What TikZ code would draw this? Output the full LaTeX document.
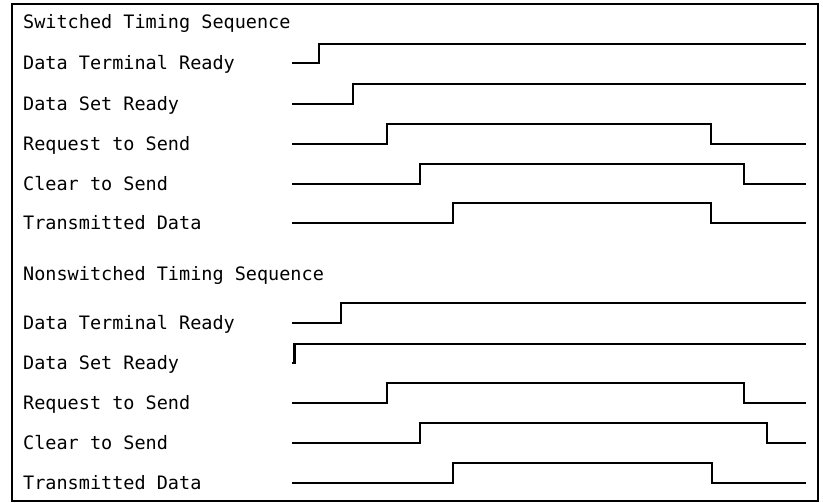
\documentclass[tikz,border=0pt]{standalone}
\usepackage{fontspec}
\setmonofont{DejaVu Sans Mono}
\begin{document}
\begin{tikzpicture}[x=1pt,y=-1pt,
  lbl/.style={anchor=base west,inner sep=0pt,font=\ttfamily\fontsize{18.5}{20}\selectfont},
  sig/.style={line width=2.1pt,line join=miter},
  frame/.style={line width=2pt}]
\useasboundingbox (0,0) rectangle (823,503);
\draw[frame] (12,4) rectangle (818,501);
% Switched
\node[lbl] (t1) at (23,29) {Switched Timing Sequence};
\node[lbl] (s1) at (23,69.5) {Data Terminal Ready};
\node[lbl] (s2) at (23,110.5) {Data Set Ready};
\node[lbl] (s3) at (23,150.5) {Request to Send};
\node[lbl] (s4) at (23,190.5) {Clear to Send};
\node[lbl] (s5) at (23,229.5) {Transmitted Data};
\draw[sig] (292,63) -- (319,63) -- (319,44) -- (806,44);
\draw[sig] (292,104) -- (353,104) -- (353,84) -- (806,84);
\draw[sig] (292,144) -- (387,144) -- (387,124) -- (711,124) -- (711,144) -- (806,144);
\draw[sig] (292,184) -- (420,184) -- (420,164) -- (744,164) -- (744,184) -- (806,184);
\draw[sig] (292,223) -- (453,223) -- (453,203) -- (711,203) -- (711,223) -- (806,223);
% Nonswitched
\node[lbl] (t2) at (23,280) {Nonswitched Timing Sequence};
\node[lbl] (n1) at (23,329.5) {Data Terminal Ready};
\node[lbl] (n2) at (23,369.5) {Data Set Ready};
\node[lbl] (n3) at (23,409.5) {Request to Send};
\node[lbl] (n4) at (23,449.5) {Clear to Send};
\node[lbl] (n5) at (23,489.5) {Transmitted Data};
\draw[sig] (292,323) -- (341,323) -- (341,303) -- (806,303);
\draw[sig] (292,363) -- (294.5,363) -- (294.5,344) -- (806,344);
\draw[sig] (292,403) -- (387,403) -- (387,383) -- (744,383) -- (744,403) -- (806,403);
\draw[sig] (292,443) -- (420,443) -- (420,423) -- (767,423) -- (767,443) -- (806,443);
\draw[sig] (292,483) -- (453,483) -- (453,463) -- (712,463) -- (712,483) -- (806,483);
\end{tikzpicture}
\end{document}
